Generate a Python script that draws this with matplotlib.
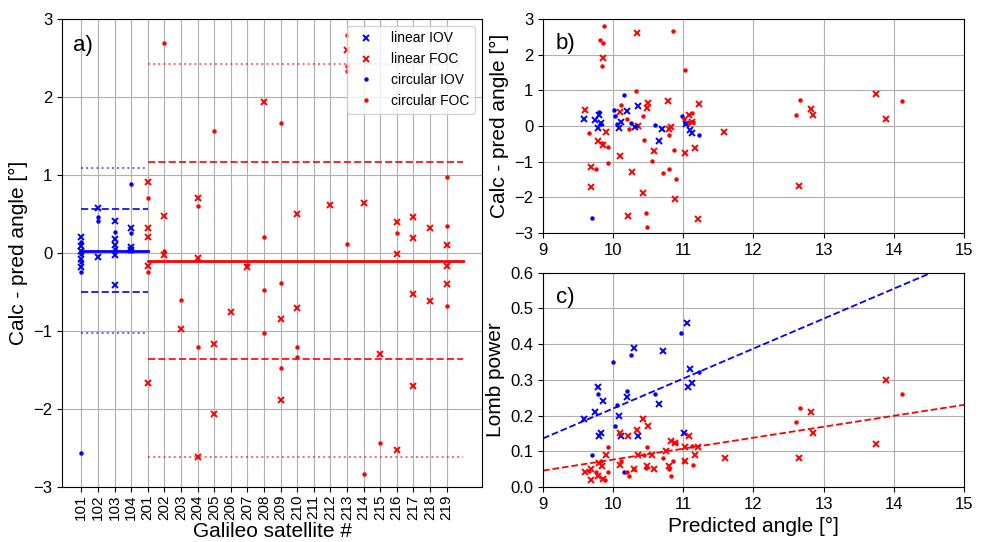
import numpy as np
import matplotlib.pyplot as plt

plt.rcParams['font.family'] = ['Liberation Sans', 'DejaVu Sans']

# 卫星编号（a图横轴类别）
sats = ['101', '102', '103', '104'] + [str(s) for s in range(201, 220)]

# a) 每颗卫星的残差 (calc - pred)
lin_iov_sat = ['101'] * 5 + ['102'] * 2 + ['103'] * 5 + ['104'] * 3
lin_iov_res = [0.20, 0.09, 0.03, -0.08, -0.18,
               0.58, -0.05,
               0.41, 0.18, 0.10, -0.02, -0.41,
               0.32, 0.08, 0.04]
circ_iov_sat = ['101'] * 5 + ['102'] * 2 + ['103'] * 2 + ['104'] * 3
circ_iov_res = [0.14, -0.01, -0.12, -0.25, -2.57,
                0.46, 0.41,
                0.27, 0.05,
                0.88, 0.26, 0.02]

lin_foc_sat = (['201'] * 5 + ['202'] * 2 + ['203'] + ['204'] * 3 + ['205'] * 2
               + ['206', '207', '208'] + ['209'] * 2 + ['210'] * 2
               + ['212', '213', '214', '215'] + ['216'] * 3 + ['217'] * 4
               + ['218'] * 2 + ['219'] * 3)
lin_foc_res = [0.91, 0.32, 0.21, -0.17, -1.67,
               0.48, -0.03,
               -0.97,
               0.71, -0.06, -2.62,
               -1.17, -2.06,
               -0.76, -0.18, 1.93,
               -0.85, -1.89,
               0.50, -0.70,
               0.62, 2.60, 0.64, -1.29,
               0.40, -0.01, -2.53,
               0.46, 0.19, -0.52, -1.71,
               0.32, -0.61,
               0.10, -0.17, -0.40]
circ_foc_sat = (['201'] * 2 + ['202'] * 2 + ['203'] + ['204'] * 2 + ['205', '207']
                + ['208'] * 3 + ['209'] * 3 + ['210'] * 2 + ['213'] * 4
                + ['214', '215', '216'] + ['219'] * 3)
circ_foc_res = [0.71, -0.25,
                2.69, 0.02,
                -0.60,
                0.60, -1.21,
                1.57, -0.15,
                0.20, -0.47, -1.02,
                1.66, -0.39, -1.48,
                -1.20, -1.33,
                2.80, 2.40, 2.33, 0.11,
                -2.83, -2.43, 0.25,
                0.97, 0.35, -0.68]

# 均值与标准差
iov_mean, iov_std = 0.03, 0.53
foc_mean, foc_std = -0.10, 1.26

# b) 预测角度 vs 残差
b_lin_iov_x = [9.59, 9.74, 9.80, 9.79, 9.83, 10.08, 10.11, 10.19, 10.35, 10.31,
               10.66, 10.70, 11.10, 11.13, 11.04]
b_lin_iov_y = [0.20, 0.18, 0.32, -0.06, 0.08, -0.06, 0.10, 0.41, 0.57, -0.03,
               -0.41, -0.07, -0.10, -0.20, 0.07]
b_circ_iov_x = [9.70, 9.80, 9.82, 10.01, 10.02, 10.06, 10.15, 10.26, 10.32, 10.60,
                10.98, 11.02, 11.23]
b_circ_iov_y = [-2.57, 0.39, 0.06, 0.46, 0.27, 0.06, 0.88, 0.09, -0.01, 0.02,
                0.27, 0.08, -0.26]
b_lin_foc_x = [9.60, 9.68, 9.68, 9.79, 9.85, 9.86, 9.90, 10.10, 10.10, 10.21,
               10.27, 10.34, 10.36, 10.42, 10.48, 10.50, 10.58, 10.78, 10.80, 10.83,
               10.88, 11.03, 11.08, 11.12, 11.16, 11.22, 11.21, 11.58,
               13.74, 12.82, 12.85, 13.89, 12.65]
b_lin_foc_y = [0.46, -1.16, -1.71, -0.41, -0.52, 1.92, -0.18, -0.85, 0.39, -2.53,
               -1.29, 2.60, -0.01, -1.89, 0.50, 0.64, -0.71, 0.71, -0.08, -0.04,
               -2.06, -0.75, 0.32, 0.10, -0.61, 0.62, -2.62, -0.17,
               0.90, 0.48, 0.32, 0.21, -1.67]
b_circ_foc_x = [9.66, 9.75, 9.81, 9.86, 9.87, 9.84, 9.84, 9.92, 9.93, 10.11,
                10.19, 10.23, 10.32, 10.42, 10.44, 10.47, 10.48, 10.56, 10.71, 10.79,
                10.80, 10.85, 10.87, 10.90, 11.03, 11.01, 11.08, 11.12, 11.14,
                12.66, 12.61, 14.12]
b_circ_foc_y = [-0.20, -1.20, 2.40, 2.32, 2.80, 1.67, -0.48, -0.60, -1.03, 0.60,
                0.20, -0.08, 0.97, 0.27, -0.38, -2.43, -2.83, -0.98, -1.33, -1.20,
                -0.24, 2.67, -0.68, -1.48, 1.57, 0.20, 0.08, 0.36, 0.10,
                0.72, 0.32, 0.71]

# c) 预测角度 vs Lomb功率
c_lin_iov_x = [9.58, 9.74, 9.79, 9.85, 9.80, 9.83, 10.08, 10.11, 10.19, 10.30,
               10.35, 10.66, 10.71, 11.01, 11.05, 11.10, 11.07, 11.13]
c_lin_iov_y = [0.190, 0.210, 0.281, 0.241, 0.142, 0.151, 0.200, 0.142, 0.251, 0.390,
               0.142, 0.232, 0.381, 0.151, 0.460, 0.331, 0.281, 0.291]
c_circ_iov_x = [9.70, 9.78, 10.00, 10.02, 10.05, 10.15, 10.19, 10.25, 10.59, 10.97, 11.23]
c_circ_iov_y = [0.090, 0.260, 0.349, 0.171, 0.230, 0.041, 0.270, 0.370, 0.260, 0.431, 0.321]
c_lin_foc_x = [9.60, 9.68, 9.68, 9.79, 9.80, 9.84, 9.86, 9.90, 10.10, 10.10,
               10.21, 10.29, 10.34, 10.36, 10.42, 10.48, 10.50, 10.58, 10.56, 10.76,
               10.79, 10.82, 10.88, 11.03, 11.03, 11.08, 11.17, 11.21, 11.59,
               13.89, 13.74, 12.82, 12.85, 12.65]
c_lin_foc_y = [0.041, 0.050, 0.020, 0.030, 0.067, 0.058, 0.022, 0.090, 0.151, 0.062,
               0.142, 0.051, 0.160, 0.090, 0.190, 0.058, 0.171, 0.051, 0.090, 0.100,
               0.060, 0.130, 0.123, 0.111, 0.072, 0.142, 0.090, 0.111, 0.081,
               0.300, 0.121, 0.210, 0.151, 0.081]
c_circ_foc_x = [9.66, 9.75, 9.82, 9.88, 9.93, 9.93, 10.11, 10.19, 10.23, 10.30,
                10.44, 10.48, 10.47, 10.71, 10.80, 10.83, 10.85, 10.90, 11.01, 11.12,
                11.14, 14.12, 12.66, 12.61]
c_circ_foc_y = [0.044, 0.041, 0.072, 0.020, 0.111, 0.041, 0.072, 0.041, 0.030, 0.051,
                0.090, 0.111, 0.053, 0.081, 0.051, 0.032, 0.072, 0.123, 0.072, 0.114,
                0.062, 0.261, 0.221, 0.181]

# c) 拟合直线端点
fit_x = [9, 15]
fit_iov = [0.136, 0.639]
fit_foc = [0.046, 0.230]

lin_kw = dict(marker='x', ms=4.5, mew=1.4, ls='none')
circ_kw = dict(marker='o', ms=2.2, ls='none')

fig = plt.figure(figsize=(9.88, 5.42), dpi=100)
ax_a = fig.add_axes([0.0628, 0.1015, 0.4251, 0.8635])
ax_b = fig.add_axes([0.5496, 0.5701, 0.4261, 0.3948])
ax_c = fig.add_axes([0.5496, 0.1015, 0.4261, 0.3954])

# ---- a) ----
def idx(lst):
    return [sats.index(s) for s in lst]

ax_a.plot(idx(lin_iov_sat), lin_iov_res, color='blue', label='linear IOV', **lin_kw)
ax_a.plot(idx(lin_foc_sat), lin_foc_res, color='red', label='linear FOC', **lin_kw)
ax_a.plot(idx(circ_iov_sat), circ_iov_res, color='blue', label='circular IOV', **circ_kw)
ax_a.plot(idx(circ_foc_sat), circ_foc_res, color='red', label='circular FOC', **circ_kw)

# 均值(实线)、1σ(虚线)、2σ(点线)
for (x0, x1), m, s, c in [((0, 4), iov_mean, iov_std, 'blue'),
                          ((4, 23), foc_mean, foc_std, 'red')]:
    ax_a.plot([x0, x1], [m, m], color=c, lw=2)
    ax_a.plot([x0, x1], [m + s, m + s], color=c, lw=1.4, ls='--', alpha=0.85)
    ax_a.plot([x0, x1], [m - s, m - s], color=c, lw=1.4, ls='--', alpha=0.85)
    ax_a.plot([x0, x1], [m + 2 * s, m + 2 * s], color=c, lw=1.4, ls=':', alpha=0.6)
    ax_a.plot([x0, x1], [m - 2 * s, m - 2 * s], color=c, lw=1.4, ls=':', alpha=0.6)

ax_a.set_xticks(range(len(sats)))
ax_a.set_xticklabels(sats, rotation=90)
ax_a.set_xlim(-1.16, 24.14)
ax_a.set_ylim(-3, 3)
ax_a.set_yticks(range(-3, 4))
ax_a.grid(True, color='#b0b0b0')
ax_a.set_axisbelow(True)
ax_a.set_xlabel('Galileo satellite #', fontsize=15, labelpad=1)
ax_a.set_ylabel('Calc - pred angle [°]', fontsize=15)
ax_a.legend(loc='upper right', fontsize=10)
ax_a.text(0.025, 0.965, 'a)', transform=ax_a.transAxes, fontsize=16, va='top')

# ---- b) ----
ax_b.plot(b_lin_iov_x, b_lin_iov_y, color='blue', **lin_kw)
ax_b.plot(b_lin_foc_x, b_lin_foc_y, color='red', **lin_kw)
ax_b.plot(b_circ_iov_x, b_circ_iov_y, color='blue', **circ_kw)
ax_b.plot(b_circ_foc_x, b_circ_foc_y, color='red', **circ_kw)
ax_b.set_xlim(9, 15)
ax_b.set_ylim(-3, 3)
ax_b.set_yticks(range(-3, 4))
ax_b.grid(True, color='#b0b0b0')
ax_b.set_axisbelow(True)
ax_b.set_ylabel('Calc - pred angle [°]', fontsize=15)
ax_b.text(0.03, 0.935, 'b)', transform=ax_b.transAxes, fontsize=16, va='top')

# ---- c) ----
ax_c.plot(c_lin_iov_x, c_lin_iov_y, color='blue', **lin_kw)
ax_c.plot(c_lin_foc_x, c_lin_foc_y, color='red', **lin_kw)
ax_c.plot(c_circ_iov_x, c_circ_iov_y, color='blue', **circ_kw)
ax_c.plot(c_circ_foc_x, c_circ_foc_y, color='red', **circ_kw)
ax_c.plot(fit_x, fit_iov, color='blue', ls='--', lw=1.3)
ax_c.plot(fit_x, fit_foc, color='red', ls='--', lw=1.3)
ax_c.set_xlim(9, 15)
ax_c.set_ylim(0, 0.6)
ax_c.grid(True, color='#b0b0b0')
ax_c.set_axisbelow(True)
ax_c.set_xlabel('Predicted angle [°]', fontsize=15)
ax_c.set_ylabel('Lomb power', fontsize=15)
ax_c.text(0.03, 0.935, 'c)', transform=ax_c.transAxes, fontsize=16, va='top')

for ax in (ax_a, ax_b, ax_c):
    ax.tick_params(labelsize=12)
ax_a.tick_params(axis='x', labelsize=11, pad=2)

fig.savefig('out.png', dpi=100)
